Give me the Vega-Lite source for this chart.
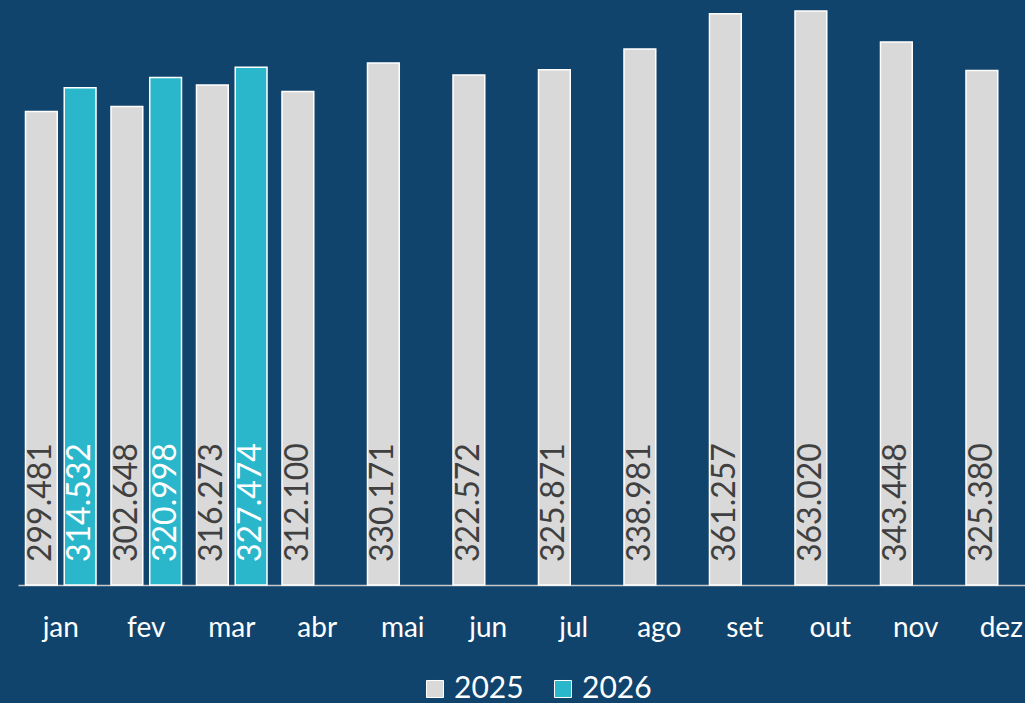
{
  "$schema": "https://vega.github.io/schema/vega-lite/v6.json",
  "width": 1026,
  "height": 585,
  "autosize": {"type": "none"},
  "padding": {"left": 18, "top": 0, "right": 0, "bottom": 118},
  "background": "#11446c",
  "config": {
    "view": {"stroke": null},
    "font": "Lato",
    "locale": {"number": {"decimal": ",", "thousands": ".", "grouping": [3], "currency": ["R$", ""]}}
  },
  "data": {
    "values": [
      {"mes": "jan", "ano": "2025", "valor": 299481},
      {"mes": "jan", "ano": "2026", "valor": 314532},
      {"mes": "fev", "ano": "2025", "valor": 302648},
      {"mes": "fev", "ano": "2026", "valor": 320998},
      {"mes": "mar", "ano": "2025", "valor": 316273},
      {"mes": "mar", "ano": "2026", "valor": 327474},
      {"mes": "abr", "ano": "2025", "valor": 312100},
      {"mes": "mai", "ano": "2025", "valor": 330171},
      {"mes": "jun", "ano": "2025", "valor": 322572},
      {"mes": "jul", "ano": "2025", "valor": 325871},
      {"mes": "ago", "ano": "2025", "valor": 338981},
      {"mes": "set", "ano": "2025", "valor": 361257},
      {"mes": "out", "ano": "2025", "valor": 363020},
      {"mes": "nov", "ano": "2025", "valor": 343448},
      {"mes": "dez", "ano": "2025", "valor": 325380}
    ]
  },
  "encoding": {
    "x": {
      "field": "mes", "type": "nominal",
      "sort": ["jan","fev","mar","abr","mai","jun","jul","ago","set","out","nov","dez"],
      "scale": {"paddingInner": 0.175, "paddingOuter": 0.0875},
      "axis": {
        "title": null, "labelAngle": 0, "ticks": false,
        "domainColor": "#c8c8c8", "domainWidth": 1.5,
        "labelColor": "#ffffff", "labelFontSize": 28, "labelFont": "Lato",
        "labelPadding": 29
      }
    },
    "xOffset": {
      "field": "ano", "type": "nominal",
      "scale": {"domain": ["2025", "2026"], "paddingInner": 0.18, "paddingOuter": 0}
    }
  },
  "layer": [
    {
      "mark": {"type": "bar", "stroke": "#ffffff", "strokeWidth": 1.5},
      "encoding": {
        "y": {
          "field": "valor", "type": "quantitative",
          "scale": {"domain": [0, 370000], "nice": false},
          "axis": null
        },
        "color": {
          "field": "ano", "type": "nominal",
          "scale": {"domain": ["2025", "2026"], "range": ["#d9d9d9", "#2ab7cb"]},
          "legend": {
            "title": null, "orient": "none", "direction": "horizontal",
            "legendX": 402, "legendY": 674,
            "symbolType": "square", "symbolSize": 290,
            "symbolStrokeColor": "#ffffff", "symbolStrokeWidth": 1,
            "symbolOpacity": 1,
            "labelColor": "#ffffff", "labelFontSize": 30, "labelFont": "Lato",
            "labelOffset": 4, "columnPadding": 24
          }
        }
      }
    },
    {
      "mark": {"type": "text", "angle": 270, "align": "left", "baseline": "middle", "dx": 23, "fontSize": 32, "font": "Lato"},
      "encoding": {
        "y": {"datum": 0, "type": "quantitative"},
        "text": {"field": "valor", "type": "quantitative", "format": ",.0f"},
        "color": {
          "field": "ano", "type": "nominal",
          "scale": {"domain": ["2025", "2026"], "range": ["#404040", "#ffffff"]},
          "legend": null
        }
      }
    }
  ],
  "resolve": {"scale": {"color": "independent"}}
}
